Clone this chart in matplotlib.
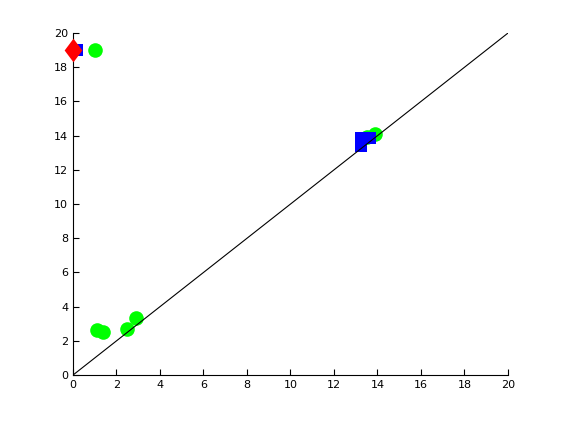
import matplotlib
matplotlib.use('Agg')
import matplotlib.pyplot as plt

# green circles
green_x = [1.0, 1.1, 1.4, 2.5, 2.9, 13.5, 13.9]
green_y = [19.0, 2.65, 2.5, 2.7, 3.35, 13.9, 14.1]
# blue squares
blue_x = [0.2, 13.25, 13.25, 13.65]
blue_y = [19.0, 13.4, 13.85, 13.85]
# red diamond
red_x = [0.0]
red_y = [19.0]
# reference line
line_x = [0, 20]
line_y = [0, 20]

# matlab style diamond (taller than wide)
diamond = [(0, 1), (0.75, 0), (0, -1), (-0.75, 0), (0, 1)]

fig = plt.figure(figsize=(5.61, 4.21), dpi=100)
ax = fig.add_axes([0.13, 0.109, 0.7755, 0.8125])

ax.plot(green_x, green_y, 'o', color='#00ff00', markersize=10.5, markeredgewidth=0, clip_on=False, zorder=2)
ax.plot(blue_x, blue_y, 's', color='#0000ff', markersize=8.5, markeredgewidth=0, clip_on=False, zorder=3)
ax.plot(red_x, red_y, marker=diamond, linestyle='none', color='#ff0000', markersize=17, markeredgewidth=0, clip_on=False, zorder=4)
ax.plot(line_x, line_y, '-', color='black', linewidth=0.8, zorder=5)

ax.set_xlim(0, 20)
ax.set_ylim(0, 20)
ax.set_xticks(range(0, 21, 2))
ax.set_yticks(range(0, 21, 2))
ax.spines['top'].set_visible(False)
ax.spines['right'].set_visible(False)
ax.tick_params(direction='in', length=4, labelsize=8, width=0.8)

fig.savefig('out.png', dpi=100)
